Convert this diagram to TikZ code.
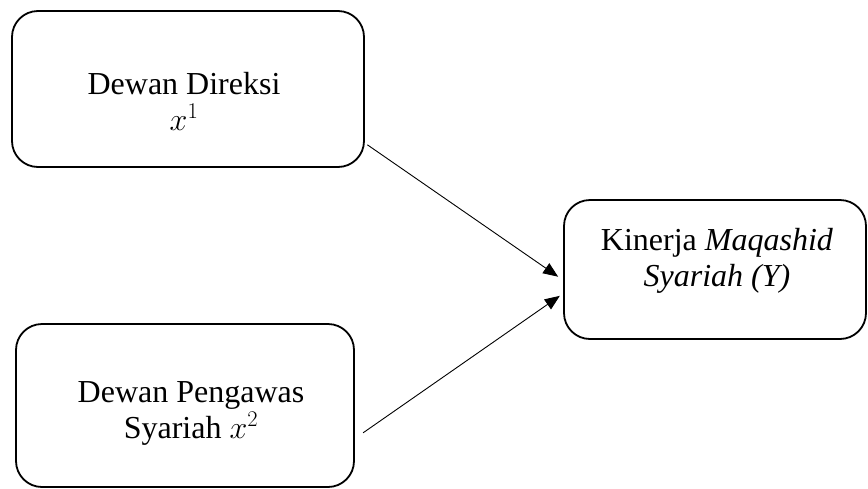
\documentclass[tikz,border=0pt]{standalone}
\usepackage{fix-cm}
\usepackage{fontspec}
\setmainfont{Liberation Serif}
\usetikzlibrary{arrows.meta}

\begin{document}
\begin{tikzpicture}[x=1pt,y=-1pt,
  kotak/.style={draw,line width=1.8pt,rounded corners=26pt,inner sep=0pt},
  isi/.style={align=center,font=\fontsize{32}{36}\selectfont},
  panah/.style={line width=0.9pt,-{Triangle[length=15pt,width=12pt]}}]
  \useasboundingbox (0,0) rectangle (868,488);

  % kotak variabel
  \node [kotak,minimum width=352pt,minimum height=156pt] (dd)  at (188,89)  {};
  \node [kotak,minimum width=338pt,minimum height=163pt] (dps) at (185,405.5) {};
  \node [kotak,minimum width=302pt,minimum height=139pt] (kms) at (715,269.5) {};

  % teks
  \node [isi] (ddt)  at (184,101) {Dewan Direksi\\$x^{1}$};
  \node [isi] (dpst) at (191,413) {Dewan Pengawas\\Syariah $x^{2}$};
  \node [isi] (kmst) at (717,261) {Kinerja \textit{Maqashid}\\\textit{Syariah (Y)}};

  % hubungan
  \draw [panah,shorten <=3pt,shorten >=6pt] (dd.-17) -- (kms.184);
  \draw [panah,shorten <=10pt,shorten >=4pt] (dps.-11) -- (kms.189);
\end{tikzpicture}
\end{document}
